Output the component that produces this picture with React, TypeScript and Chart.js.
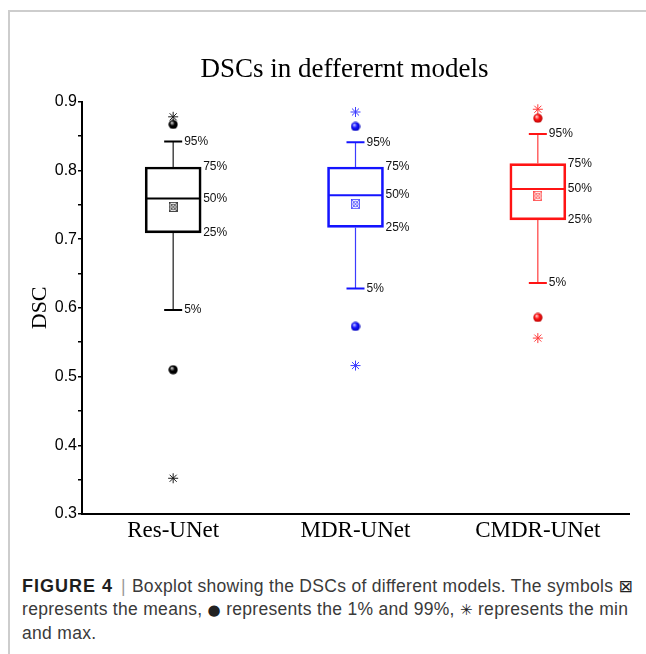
import React, { useEffect, useRef } from 'react';
import { Chart, registerables } from 'chart.js';

Chart.register(...registerables);

const categories = ['Res-UNet', 'MDR-UNet', 'CMDR-UNet'];
const minVals = [0.352, 0.516, 0.556];
const p1Vals = [0.510, 0.573, 0.586];
const p5Vals = [0.597, 0.628, 0.636];
const q1Vals = [0.709, 0.717, 0.728];
const medianVals = [0.759, 0.764, 0.773];
const meanVals = [0.747, 0.751, 0.763];
const q3Vals = [0.805, 0.805, 0.810];
const p95Vals = [0.842, 0.841, 0.853];
const p99Vals = [0.867, 0.864, 0.876];
const maxVals = [0.878, 0.885, 0.889];
const percentLabels = ['95%', '75%', '50%', '25%', '5%'];

const seriesColors = ['#000000', '#1414ff', '#ff1414'];
const whiskerColors = ['#1a1a1a', '#3c3cff', '#ff3c3c'];
const ballLight = ['#d8d8d8', '#c8c8ff', '#ffd0d0'];
const ballDark = ['#000000', '#0000b0', '#b00000'];

function makeBall(light: string, base: string, dark: string): HTMLCanvasElement {
  const c = document.createElement('canvas');
  c.width = 10;
  c.height = 10;
  const g = c.getContext('2d')!;
  const grad = g.createRadialGradient(3.6, 3.2, 0.3, 5, 5, 5);
  grad.addColorStop(0, light);
  grad.addColorStop(0.45, base);
  grad.addColorStop(1, dark);
  g.fillStyle = grad;
  g.beginPath();
  g.arc(5, 5, 4.6, 0, Math.PI * 2);
  g.fill();
  return c;
}

function makeMean(color: string): HTMLCanvasElement {
  const c = document.createElement('canvas');
  c.width = 9;
  c.height = 10;
  const g = c.getContext('2d')!;
  g.strokeStyle = color;
  g.lineWidth = 0.8;
  g.strokeRect(0.5, 0.5, 8, 9);
  g.beginPath();
  g.moveTo(0.5, 0.5);
  g.lineTo(8.5, 9.5);
  g.moveTo(8.5, 0.5);
  g.lineTo(0.5, 9.5);
  g.stroke();
  g.beginPath();
  g.arc(4.5, 5, 2.7, 0, Math.PI * 2);
  g.stroke();
  return c;
}

const boxPlugin = {
  id: 'boxWhiskers',
  afterDatasetsDraw(chart: any) {
    const ctx = chart.ctx;
    const xS = chart.scales.x;
    const yS = chart.scales.y;
    const barMeta = chart.getDatasetMeta(0);
    const py = (v: number) => yS.getPixelForValue(v);
    categories.forEach((_, i) => {
      const xc = xS.getPixelForValue(i);
      const bar = barMeta.data[i];
      const half = bar.width / 2;
      const capHalf = 9;
      ctx.save();
      ctx.strokeStyle = whiskerColors[i];
      ctx.lineWidth = 1.2;
      ctx.beginPath();
      ctx.moveTo(xc, py(q3Vals[i]));
      ctx.lineTo(xc, py(p95Vals[i]));
      ctx.moveTo(xc, py(q1Vals[i]));
      ctx.lineTo(xc, py(p5Vals[i]));
      ctx.stroke();
      ctx.strokeStyle = seriesColors[i];
      ctx.lineWidth = 2;
      ctx.beginPath();
      ctx.moveTo(xc - capHalf, py(p95Vals[i]));
      ctx.lineTo(xc + capHalf, py(p95Vals[i]));
      ctx.moveTo(xc - capHalf, py(p5Vals[i]));
      ctx.lineTo(xc + capHalf, py(p5Vals[i]));
      ctx.moveTo(xc - half + 1, py(medianVals[i]));
      ctx.lineTo(xc + half - 1, py(medianVals[i]));
      ctx.stroke();
      ctx.fillStyle = '#111111';
      ctx.font = '12px "Liberation Sans", Arial, sans-serif';
      ctx.textBaseline = 'middle';
      ctx.textAlign = 'left';
      ctx.fillText(percentLabels[0], xc + capHalf + 2, py(p95Vals[i]));
      ctx.fillText(percentLabels[1], xc + half + 2, py(q3Vals[i]));
      ctx.fillText(percentLabels[2], xc + half + 2, py(medianVals[i]));
      ctx.fillText(percentLabels[3], xc + half + 2, py(q1Vals[i]));
      ctx.fillText(percentLabels[4], xc + capHalf + 2, py(p5Vals[i]));
      ctx.restore();
    });
  },
};

function BoxChart() {
  const ref = useRef<HTMLCanvasElement | null>(null);
  useEffect(() => {
    if (!ref.current) return;
    const balls = categories.map((_, i) => makeBall(ballLight[i], seriesColors[i], ballDark[i]));
    const means = categories.map((_, i) => makeMean(whiskerColors[i]));
    const chart = new Chart(ref.current, {
      type: 'bar',
      data: {
        labels: categories,
        datasets: [
          {
            type: 'bar',
            data: categories.map((_, i) => [q1Vals[i], q3Vals[i]]) as any,
            backgroundColor: 'rgba(0,0,0,0)',
            borderColor: seriesColors,
            borderWidth: 2,
            borderSkipped: false,
            barThickness: 56,
          } as any,
          {
            type: 'line',
            data: meanVals,
            showLine: false,
            pointStyle: means as any,
            pointRadius: 5,
          } as any,
          {
            type: 'line',
            data: p99Vals,
            showLine: false,
            pointStyle: balls as any,
            pointRadius: 5,
          } as any,
          {
            type: 'line',
            data: p1Vals,
            showLine: false,
            pointStyle: balls as any,
            pointRadius: 5,
          } as any,
          {
            type: 'line',
            data: maxVals,
            showLine: false,
            pointStyle: 'star',
            pointRadius: 5,
            pointBorderWidth: 1,
            pointBorderColor: whiskerColors,
            pointBackgroundColor: whiskerColors,
          } as any,
          {
            type: 'line',
            data: minVals,
            showLine: false,
            pointStyle: 'star',
            pointRadius: 5,
            pointBorderWidth: 1,
            pointBorderColor: whiskerColors,
            pointBackgroundColor: whiskerColors,
          } as any,
        ],
      },
      options: {
        responsive: false,
        animation: false,
        devicePixelRatio: 1,
        layout: { padding: { left: 34, right: 0, top: 0, bottom: 0 } },
        plugins: {
          legend: { display: false },
          tooltip: { enabled: false },
          title: {
            display: true,
            text: 'DSCs in defferernt models',
            color: '#000000',
            font: { family: '"Liberation Serif", "Times New Roman", serif', size: 27, weight: 'normal' },
            padding: { top: 41.8, bottom: 15.5 },
          },
        },
        scales: {
          x: {
            type: 'category',
            offset: true,
            afterFit: (s: any) => { s.height = 40; },
            grid: { display: false, drawTicks: false },
            border: { display: true, color: '#000000', width: 2 },
            ticks: {
              color: '#000000',
              padding: 3,
              font: { family: '"Liberation Serif", "Times New Roman", serif', size: 23 },
            },
          },
          y: {
            type: 'linear',
            min: 0.3,
            max: 0.9,
            afterFit: (s: any) => { s.width = 28; },
            grid: {
              display: true,
              drawOnChartArea: false,
              drawTicks: true,
              tickLength: 4,
              color: '#000000',
              lineWidth: 1.5,
            },
            border: { display: true, color: '#000000', width: 2 },
            ticks: {
              stepSize: 0.05,
              autoSkip: false,
              padding: 1,
              color: '#000000',
              font: { family: '"Liberation Sans", Arial, sans-serif', size: 16 },
              callback: (v: any) => {
                const k = Math.round(Number(v) * 100);
                return k % 10 === 0 ? (k / 100).toFixed(1) : '';
              },
            },
            title: {
              display: true,
              text: 'DSC',
              color: '#000000',
              font: { family: '"Liberation Serif", "Times New Roman", serif', size: 22 },
              padding: { top: -27.2, bottom: 0 },
            },
          },
        },
      },
      plugins: [boxPlugin],
    } as any);
    return () => chart.destroy();
  }, []);
  return <canvas ref={ref} width={615} height={542} style={{ width: 615, height: 542, display: 'block' }} />;
}

const symbolStyle = { fontFamily: '"DejaVu Sans", sans-serif', color: '#222222', fontSize: 15 };

export default function App() {
  return (
    <div style={{ position: 'fixed', left: 0, top: 0, width: 646, height: 654, overflow: 'hidden', background: '#ffffff' }}>
      <div
        style={{
          position: 'absolute',
          left: 8,
          top: 10,
          width: 640,
          height: 650,
          borderLeft: '2px solid #cdcdcd',
          borderTop: '2px solid #cdcdcd',
        }}
      />
      <div style={{ position: 'absolute', left: 20, top: 12 }}>
        <BoxChart />
      </div>
      <div
        style={{
          position: 'absolute',
          left: 22,
          top: 575,
          fontFamily: '"Liberation Sans", Arial, sans-serif',
          fontSize: 17.5,
          letterSpacing: '0.3px',
          lineHeight: '23px',
          color: '#3a3a3a',
          whiteSpace: 'nowrap',
        }}
      >
        <b style={{ color: '#1e1e1e', letterSpacing: '1px', fontSize: 18 }}>FIGURE 4</b>
        <span style={{ color: '#9a9a9a', margin: '0 6px 0 8px' }}>|</span>
        <span style={{ letterSpacing: '0.3px' }}>Boxplot showing the DSCs of different models. The symbols</span> <span style={{ ...symbolStyle, fontSize: 17 }}>⊠</span>
        <br />
        represents the means, <span style={symbolStyle}>●</span> represents the 1% and 99%, <span style={symbolStyle}>{'\u2733\uFE0E'}</span> represents the min
        <br />
        and max.
      </div>
    </div>
  );
}
